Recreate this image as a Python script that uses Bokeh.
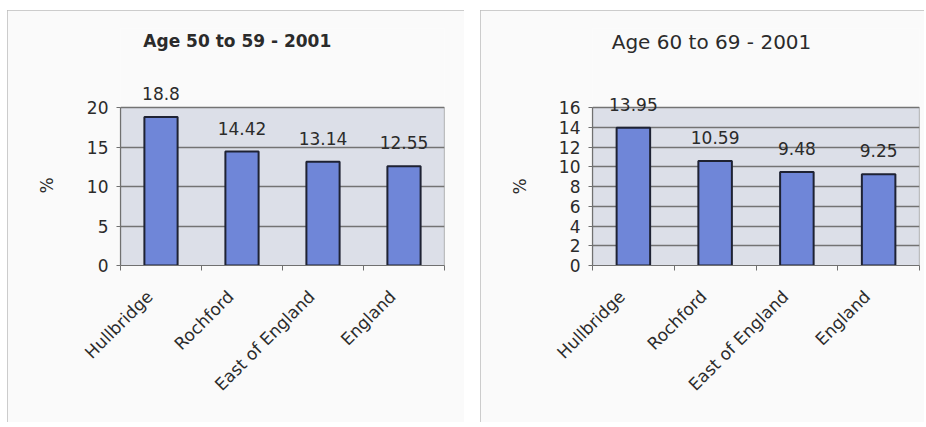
import math
from bokeh.plotting import figure
from bokeh.layouts import row, column
from bokeh.models import (FixedTicker, Range1d, LabelSet, Label, ColumnDataSource,
                          Spacer, Title)
from bokeh.core.properties import value
from bokeh.embed import file_html
from bokeh.resources import INLINE

categories = ["Hullbridge", "Rochford", "East of England", "England"]
age50_values = [18.8, 14.42, 13.14, 12.55]
age60_values = [13.95, 10.59, 9.48, 9.25]
age50_ticks = [0, 5, 10, 15, 20]
age60_ticks = [0, 2, 4, 6, 8, 10, 12, 14, 16]
age50_title = "Age 50 to 59 - 2001"
age60_title = "Age 60 to 69 - 2001"

FONT = "DejaVu Sans"
BAR = "#6f86d8"
PLOT_BG = "#dcdfe8"
PANEL_BG = "#fafafa"
GRID = "#737373"
TEXT = "#2b2b2b"


def make_panel(vals, yticks, title, width, height, mb, ytop, title_xy, title_size,
               title_bold, pct_offset, pct_standoff):
    n = len(categories)
    centers = [i + 0.5 for i in range(n)]
    label_ticks = [c - 0.14 for c in centers]
    p = figure(width=width, height=height, output_backend="svg", toolbar_location=None,
               x_range=Range1d(0, n), y_range=Range1d(yticks[0], ytop),
               min_border_left=mb[0], min_border_right=mb[1],
               min_border_top=mb[2], min_border_bottom=mb[3])
    p.background_fill_color = PANEL_BG
    p.border_fill_color = PANEL_BG
    p.outline_line_color = None
    p.styles = {"outline": "1px solid #bcbcbc", "outline-offset": "-1px"}

    # plot area (grey box) spanning the categories and the value axis
    p.quad(left=0, right=n, bottom=yticks[0], top=yticks[-1], fill_color=PLOT_BG,
           line_color="#858585", line_width=1.2, level="image")

    src = ColumnDataSource(dict(x=centers, top=vals, lab=[f"{v:g}" for v in vals]))
    p.vbar(x="x", top="top", bottom=0, width=0.41, source=src, fill_color=BAR,
           line_color="#1e2233", line_width=2)
    p.add_layout(LabelSet(x="x", y="top", text="lab", source=src, text_align="center",
                          text_baseline="alphabetic", y_offset=17,
                          text_font=value(FONT), text_font_size=value("17px"),
                          text_color=TEXT))

    p.add_layout(Label(x=title_xy[0], y=title_xy[1], text=title, text_align="center",
                       text_baseline="alphabetic", text_font=FONT,
                       text_font_size=title_size,
                       text_font_style="bold" if title_bold else "normal",
                       text_color=TEXT))

    # x axis
    xa = p.xaxis[0]
    xa.ticker = FixedTicker(ticks=label_ticks, minor_ticks=list(range(n + 1)))
    xa.major_label_overrides = {t: lab for t, lab in zip(label_ticks, categories)}
    xa.major_label_orientation = math.pi / 4
    xa.major_tick_out = 0
    xa.major_tick_in = 0
    xa.minor_tick_out = 5
    xa.minor_tick_in = 0
    xa.minor_tick_line_color = "#707070"
    xa.axis_line_color = "#707070"
    xa.axis_line_width = 1.2
    xa.major_label_text_font = FONT
    xa.major_label_text_font_size = "17px"
    xa.major_label_text_color = TEXT
    xa.major_label_standoff = 23

    # y axis
    ya = p.yaxis[0]
    ya.bounds = (yticks[0], yticks[-1])
    ya.ticker = FixedTicker(ticks=yticks, minor_ticks=[])
    ya.major_tick_out = 4
    ya.major_tick_in = 0
    ya.major_tick_line_color = "#707070"
    ya.axis_line_color = "#707070"
    ya.axis_line_width = 1.2
    ya.major_label_text_font = FONT
    ya.major_label_text_font_size = "17px"
    ya.major_label_text_color = TEXT
    ya.major_label_standoff = 8

    # "%" axis title, centred on the value axis
    p.add_layout(Title(text="%", align="left", offset=pct_offset, vertical_align="bottom",
                       standoff=pct_standoff, text_font=FONT, text_font_size="17px",
                       text_font_style="normal", text_color=TEXT), "left")

    p.xgrid.grid_line_color = None
    p.ygrid.ticker = FixedTicker(ticks=yticks)
    p.ygrid.grid_line_color = GRID
    p.ygrid.grid_line_width = 1.3
    return p


p1 = make_panel(age50_values, age50_ticks, age50_title, 457, 412,
                (111, 20, 13, 157), 30, (1.442, 28.4), "17px", True, 72, 54)
p2 = make_panel(age60_values, age60_ticks, age60_title, 444, 412,
                (112, 5, 18, 157), 24, (1.456, 22.6), "20px", False, 71, 52)

layout = column(Spacer(height=10),
                row(Spacer(width=7), p1, Spacer(width=16), p2, spacing=0),
                spacing=0)
open("out.html", "w").write(file_html(layout, INLINE))
